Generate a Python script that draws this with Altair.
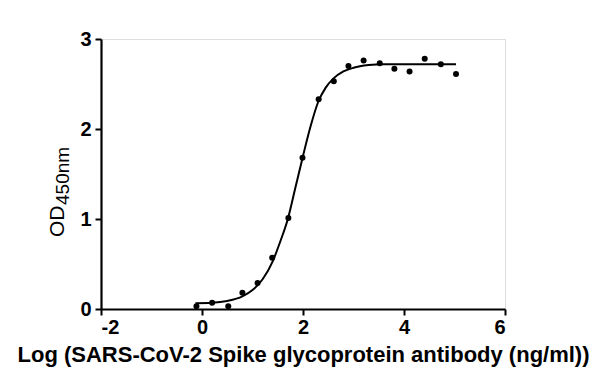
import altair as alt
import pandas as pd

# Measured points (log concentration, OD450)
pt_x = [-0.11, 0.20, 0.52, 0.80, 1.10, 1.39, 1.71, 1.99, 2.31, 2.61, 2.90, 3.20, 3.52, 3.81, 4.11, 4.41, 4.73, 5.03]
pt_y = [0.03, 0.07, 0.03, 0.18, 0.29, 0.57, 1.01, 1.68, 2.33, 2.53, 2.70, 2.76, 2.73, 2.67, 2.64, 2.78, 2.72, 2.61]

# Fitted curve
cv_x = [-0.13, 0.2, 0.5, 0.8, 1.0, 1.2, 1.4, 1.55, 1.7, 1.85, 2.0, 2.15, 2.3, 2.45, 2.6, 2.8, 3.0, 3.3, 3.6, 4.0, 4.5, 5.03]
cv_y = [0.065, 0.07, 0.09, 0.14, 0.21, 0.33, 0.53, 0.75, 1.00, 1.35, 1.70, 2.03, 2.30, 2.46, 2.56, 2.64, 2.68, 2.71, 2.72, 2.72, 2.72, 2.72]

x_ticks = [-2, 0, 2, 4, 6]
y_ticks = [0, 1, 2, 3]
x_title = "Log (SARS-CoV-2 Spike glycoprotein antibody (ng/ml))"
y_main = "OD"
y_sub = "450nm"

FONT = "Liberation Sans"

pts = pd.DataFrame({"x": pt_x, "y": pt_y})
crv = pd.DataFrame({"x": cv_x, "y": cv_y})

xs = alt.Scale(domain=[-2, 6], nice=False, zero=False)
ys = alt.Scale(domain=[0, 3], nice=False, zero=False)

x_axis = alt.Axis(values=x_ticks, grid=False, domainColor="black", domainWidth=2.2,
                  tickColor="black", tickWidth=2, tickSize=6, labelFont=FONT,
                  labelFontWeight="bold", labelFontSize=20, labelColor="black",
                  labelPadding=2, labelExpr="'' + datum.value",
                  title=x_title, titleFont=FONT, titleFontWeight="bold",
                  titleFontSize=22, titleColor="black", titlePadding=7)
y_axis = alt.Axis(values=y_ticks, grid=False, domainColor="black", domainWidth=2.2,
                  tickColor="black", tickWidth=2, tickSize=6, labelFont=FONT,
                  labelFontWeight="bold", labelFontSize=20, labelColor="black",
                  labelPadding=4, labelExpr="'' + datum.value", title=None)

line = alt.Chart(crv).mark_line(color="black", strokeWidth=2, interpolate="monotone").encode(
    x=alt.X("x:Q", scale=xs, axis=x_axis),
    y=alt.Y("y:Q", scale=ys, axis=y_axis),
)
dots = alt.Chart(pts).mark_circle(color="black", size=36, opacity=1).encode(
    x=alt.X("x:Q", scale=xs),
    y=alt.Y("y:Q", scale=ys),
)

od = alt.Chart(pd.DataFrame({"t": [y_main]})).mark_text(
    angle=270, align="left", baseline="alphabetic", font=FONT, fontSize=21,
    fontWeight="normal", color="black"
).encode(text="t:N", x=alt.value(-37), y=alt.value(198))

sub = alt.Chart(pd.DataFrame({"t": [y_sub]})).mark_text(
    angle=270, align="left", baseline="alphabetic", font=FONT, fontSize=19,
    fontWeight="normal", color="black"
).encode(text="t:N", x=alt.value(-32), y=alt.value(166))

chart = alt.layer(line, dots, od, sub).properties(
    width=404, height=270,
    padding={"left": 101, "top": 39, "right": 95, "bottom": 76},
    autosize=alt.AutoSizeParams(type="none"),
).configure_view(stroke=None).configure(background="white")

chart.save("out.html", embed_options={"renderer": "svg", "actions": False})
